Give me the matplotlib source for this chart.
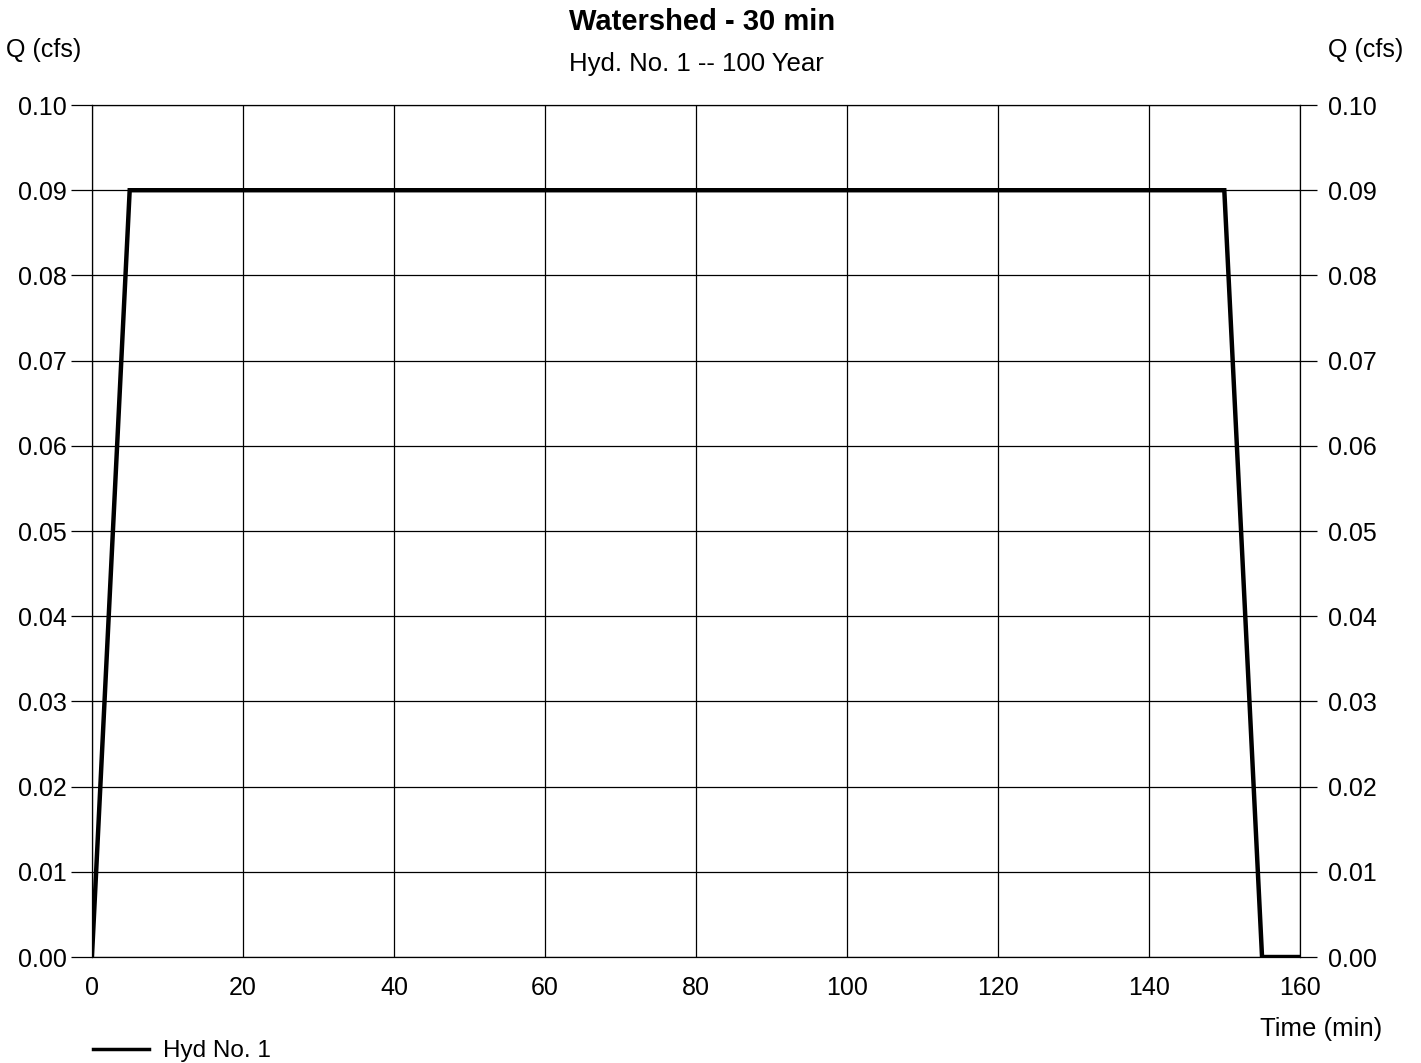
import matplotlib.pyplot as plt
import numpy as np

plt.rcParams['font.family'] = ['Liberation Sans', 'DejaVu Sans']

# hydrograph data
time_min = [0, 5, 150, 155, 160]
flow_cfs = [0.0, 0.09, 0.09, 0.0, 0.0]
x_ticks = [0, 20, 40, 60, 80, 100, 120, 140, 160]
y_ticks = [0.00, 0.01, 0.02, 0.03, 0.04, 0.05, 0.06, 0.07, 0.08, 0.09, 0.10]
y_labels = [f'{v:.2f}' for v in y_ticks]

fig = plt.figure(figsize=(14.21, 10.63), dpi=100)
ax = fig.add_axes([0.0647, 0.0997, 0.8500, 0.8015])

ax.plot(time_min, flow_cfs, color='black', linewidth=3.2, solid_joinstyle='miter',
        label='Hyd No. 1', zorder=3)

ax.set_xlim(0, 160)
ax.set_ylim(0, 0.10)
ax.set_xticks(x_ticks)
ax.set_yticks(y_ticks)
ax.set_yticklabels(y_labels)
ax.grid(True, color='black', linewidth=0.9)
for s in ax.spines.values():
    s.set_linewidth(0.9)

ax.tick_params(axis='x', length=0, pad=14, labelsize=18)
ax.tick_params(axis='y', length=15, width=0.9, pad=3, labelsize=18)

# right-hand Q axis
ax2 = ax.twinx()
ax2.set_ylim(0, 0.10)
ax2.set_yticks(y_ticks)
ax2.set_yticklabels(y_labels)
ax2.tick_params(axis='y', length=12, width=0.9, pad=8, labelsize=18)
for s in ax2.spines.values():
    s.set_visible(False)

fig.text(0.494, 0.979, 'Watershed - 30 min', ha='center', va='center',
         fontsize=21, fontweight='bold')
fig.text(0.490, 0.940, 'Hyd. No. 1 -- 100 Year', ha='center', va='center', fontsize=18.5)
fig.text(0.031, 0.953, 'Q (cfs)', ha='center', va='center', fontsize=18)
fig.text(0.961, 0.953, 'Q (cfs)', ha='center', va='center', fontsize=18)
fig.text(0.930, 0.032, 'Time (min)', ha='center', va='center', fontsize=18.5)

# legend entry below the axes
fig.legend(loc='lower left', bbox_to_anchor=(0.050, -0.020), frameon=False,
           fontsize=17.5, handlelength=2.3, handletextpad=0.6)
for line in fig.legends[0].get_lines():
    line.set_linewidth(2.5)

fig.savefig('out.png', dpi=100)
